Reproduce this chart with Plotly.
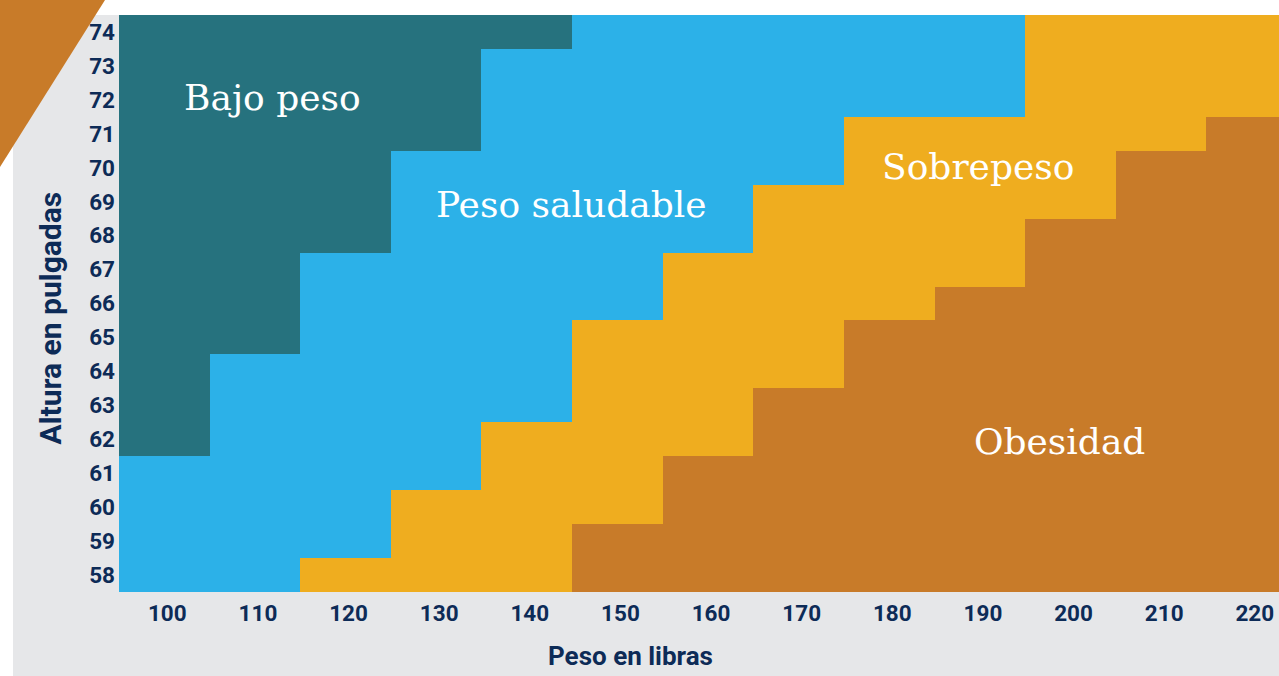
import plotly.graph_objects as go

# ---- data ----
alturas = [58, 59, 60, 61, 62, 63, 64, 65, 66, 67, 68, 69, 70, 71, 72, 73, 74]
pesos = [100, 110, 120, 130, 140, 150, 160, 170, 180, 190, 200, 210, 220]

# first weight (lb) of each category for every height (None = not reached)
inicio_saludable = [100, 100, 100, 100, 110, 110, 110, 120, 120, 120, 130, 130, 130, 140, 140, 140, 150]
inicio_sobrepeso = [120, 130, 130, 140, 140, 150, 150, 150, 160, 160, 170, 170, 180, 180, 200, 200, 200]
inicio_obesidad = [150, 150, 160, 160, 170, 170, 180, 180, 190, 200, 200, 210, 210, 220, None, None, None]

categorias = ["Bajo peso", "Peso saludable", "Sobrepeso", "Obesidad"]
colores = ["#26727e", "#2cb1e8", "#efad1f", "#c87b29"]

# ---- build category matrix ----
z = []
for i, h in enumerate(alturas):
    fila = []
    for p in pesos:
        c = 0
        if p >= inicio_saludable[i]:
            c = 1
        if p >= inicio_sobrepeso[i]:
            c = 2
        if inicio_obesidad[i] is not None and p >= inicio_obesidad[i]:
            c = 3
        fila.append(c)
    z.append(fila)

n = len(colores)
escala = []
for k, col in enumerate(colores):
    escala.append([k / n, col])
    escala.append([(k + 1) / n, col])

fig = go.Figure(
    go.Heatmap(
        x=pesos,
        y=alturas,
        z=z,
        zmin=-0.5,
        zmax=n - 0.5,
        colorscale=escala,
        showscale=False,
        hoverinfo="skip",
    )
)

W, H = 1279, 676
L, R, T, B = 119, 0, 15, 84
pw, ph = W - L - R, H - T - B


def px_x(px):
    return (px - L) / pw


def px_y(py):
    return (H - B - py) / ph


navy = "#0d2b57"
tick_font = dict(family="Roboto", size=22.5, color=navy, weight="bold")

fig.update_layout(
    width=W,
    height=H,
    margin=dict(l=L, r=R, t=T, b=B, pad=0),
    paper_bgcolor="white",
    plot_bgcolor="#e6e7e9",
    showlegend=False,
    xaxis=dict(
        range=[95, 223],
        tickvals=pesos,
        ticktext=[str(p) for p in pesos],
        showgrid=False,
        zeroline=False,
        showline=False,
        ticks="",
        tickfont=tick_font,
        ticklabelstandoff=5,
        ticklabelshift=3,
        fixedrange=True,
    ),
    yaxis=dict(
        range=[57.5, 74.5],
        tickvals=alturas,
        ticktext=[str(a) for a in alturas],
        showgrid=False,
        zeroline=False,
        showline=False,
        ticks="",
        tickfont=tick_font,
        ticklabelstandoff=3,
        fixedrange=True,
    ),
    shapes=[
        dict(
            type="rect",
            xref="paper",
            yref="paper",
            x0=px_x(13),
            x1=px_x(W),
            y0=px_y(H),
            y1=px_y(15),
            fillcolor="#e6e7e9",
            line=dict(width=0),
            layer="below",
        ),
        dict(
            type="path",
            xref="paper",
            yref="paper",
            path="M {:.5f} {:.5f} L {:.5f} {:.5f} L {:.5f} {:.5f} Z".format(
                px_x(0), px_y(0), px_x(105), px_y(0), px_x(0), px_y(167)
            ),
            fillcolor="#c87b29",
            line=dict(width=0),
            layer="above",
        ),
    ],
)

label_font = dict(family="DejaVu Serif", size=36, color="white")
posiciones = [(111.9, 72.08), (144.9, 68.93), (189.8, 70.05), (198.8, 61.92)]
for nombre, (xx, yy) in zip(categorias, posiciones):
    fig.add_annotation(
        x=xx, y=yy, xref="x", yref="y", text=nombre, showarrow=False,
        font=label_font, xanchor="center", yanchor="middle",
    )

fig.add_annotation(
    x=px_x(630), y=px_y(656), xref="paper", yref="paper",
    text="Peso en libras", showarrow=False,
    font=dict(family="Roboto", size=26, color=navy, weight="bold"),
    xanchor="center", yanchor="middle",
)
fig.add_annotation(
    x=px_x(50), y=px_y(318.5), xref="paper", yref="paper",
    text="Altura en pulgadas", showarrow=False, textangle=-90,
    font=dict(family="Roboto", size=30, color=navy, weight="bold"),
    xanchor="center", yanchor="middle",
)

fig.write_html("out.html")
